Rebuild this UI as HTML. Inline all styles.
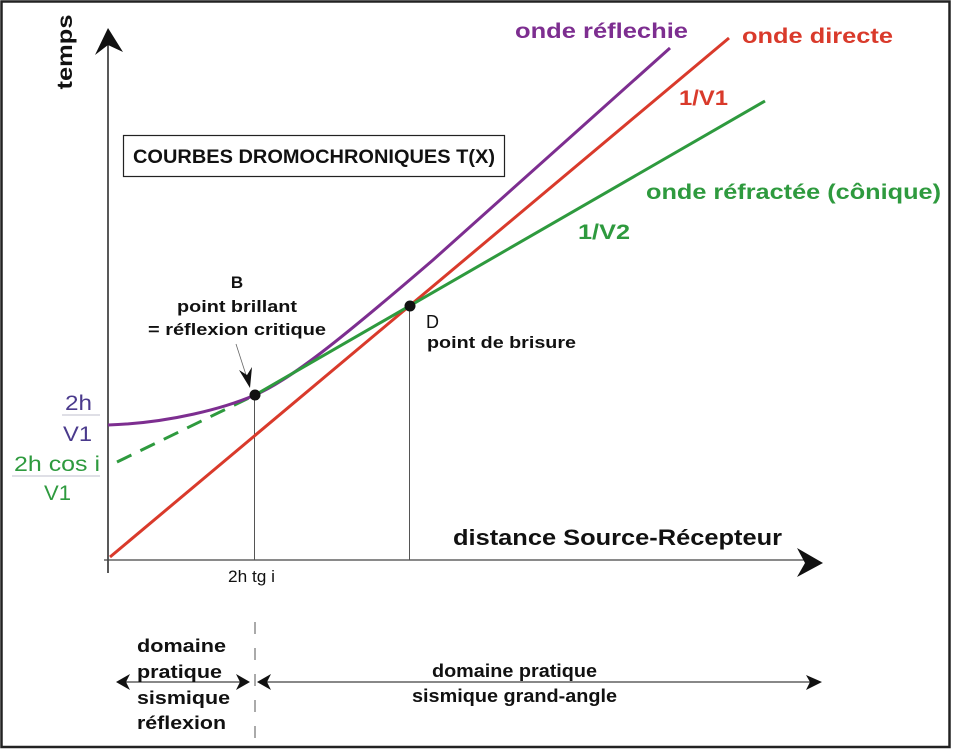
<!DOCTYPE html>
<html><head><meta charset="utf-8"><style>
html,body{margin:0;padding:0;background:#fff}
svg{display:block}
text{font-family:"Liberation Sans",Arial,sans-serif}
</style></head><body>
<svg width="953" height="750" viewBox="0 0 953 750" xmlns="http://www.w3.org/2000/svg">
<rect x="1.5" y="1.5" width="948" height="745.5" fill="#fff" stroke="#222" stroke-width="2.5"/>
<!-- axes -->
<line x1="108" y1="573" x2="108" y2="44" stroke="#222" stroke-width="1.5"/>
<path d="M108,28 L123,52 L108,45 L95,55 Z" fill="#111"/>
<line x1="104" y1="560" x2="808" y2="560" stroke="#444" stroke-width="1.2"/>
<path d="M823,563 L797,548 L805,563 L797,577 Z" fill="#111"/>
<text transform="translate(72,52) rotate(-90)" text-anchor="middle" font-size="21" font-weight="bold" fill="#111" textLength="75" lengthAdjust="spacingAndGlyphs">temps</text>
<!-- title box -->
<rect x="123.5" y="135.5" width="381" height="41" fill="#fff" stroke="#222" stroke-width="1.2"/>
<text x="133" y="163" font-size="19" font-weight="bold" fill="#111" textLength="362" lengthAdjust="spacingAndGlyphs">COURBES DROMOCHRONIQUES T(X)</text>
<!-- verticals -->
<line x1="254.5" y1="395" x2="254.5" y2="560" stroke="#555" stroke-width="1"/>
<line x1="409.5" y1="306" x2="409.5" y2="560" stroke="#555" stroke-width="1"/>
<!-- curves -->
<line x1="110" y1="557" x2="729" y2="38" stroke="#d93a2b" stroke-width="3"/>
<line x1="117" y1="462" x2="255" y2="395" stroke="#2e9a3e" stroke-width="3" stroke-dasharray="16,10"/>
<path d="M108,425 C170,423 225,408 255,395 C290,380 340,340 433,260 L670,48" fill="none" stroke="#7d2e90" stroke-width="3"/>
<line x1="255" y1="395" x2="765" y2="101" stroke="#2e9a3e" stroke-width="3"/>
<circle cx="255" cy="395" r="5.5" fill="#111"/>
<circle cx="410" cy="306" r="5.5" fill="#111"/>
<!-- B pointer -->
<line x1="236" y1="344" x2="247" y2="378" stroke="#666" stroke-width="0.8"/>
<path d="M250,388 L239,370 L247,375 L252,367 Z" fill="#111"/>
<!-- labels -->
<text x="237" y="288" text-anchor="middle" font-size="17" font-weight="bold" fill="#111">B</text>
<text x="177" y="312" font-size="17" font-weight="bold" fill="#111" textLength="120" lengthAdjust="spacingAndGlyphs">point brillant</text>
<text x="148" y="335" font-size="17" font-weight="bold" fill="#111" textLength="178" lengthAdjust="spacingAndGlyphs">= réflexion critique</text>
<text x="426" y="328" font-size="18" fill="#111">D</text>
<text x="427" y="348" font-size="17" font-weight="bold" fill="#111" textLength="149" lengthAdjust="spacingAndGlyphs">point de brisure</text>
<text x="515" y="38" font-size="21" font-weight="bold" fill="#7d2e90" textLength="173" lengthAdjust="spacingAndGlyphs">onde réflechie</text>
<text x="742" y="43" font-size="21" font-weight="bold" fill="#d93a2b" textLength="151" lengthAdjust="spacingAndGlyphs">onde directe</text>
<text x="679" y="105" font-size="21" font-weight="bold" fill="#d93a2b" textLength="49" lengthAdjust="spacingAndGlyphs">1/V1</text>
<text x="646" y="199" font-size="21" font-weight="bold" fill="#2e9a3e" textLength="295" lengthAdjust="spacingAndGlyphs">onde réfractée (cônique)</text>
<text x="578" y="239" font-size="21" font-weight="bold" fill="#2e9a3e" textLength="52" lengthAdjust="spacingAndGlyphs">1/V2</text>
<text x="453" y="545" font-size="22" font-weight="bold" fill="#111" textLength="329" lengthAdjust="spacingAndGlyphs">distance Source-Récepteur</text>
<text x="228" y="582" font-size="17" fill="#111" textLength="47" lengthAdjust="spacingAndGlyphs">2h tg i</text>
<!-- y-intercept labels -->
<text x="65" y="410" font-size="21" fill="#4a3a8c" textLength="27" lengthAdjust="spacingAndGlyphs">2h</text>
<line x1="62" y1="415" x2="100" y2="415" stroke="#aab" stroke-width="0.8"/>
<text x="63" y="441" font-size="21" fill="#4a3a8c" textLength="29" lengthAdjust="spacingAndGlyphs">V1</text>
<text x="14" y="471" font-size="21" fill="#2e9a3e" textLength="86" lengthAdjust="spacingAndGlyphs">2h cos i</text>
<line x1="12" y1="476" x2="100" y2="476" stroke="#aab" stroke-width="0.8"/>
<text x="44" y="500" font-size="21" fill="#2e9a3e" textLength="27" lengthAdjust="spacingAndGlyphs">V1</text>
<!-- bottom -->
<line x1="255" y1="622" x2="255" y2="740" stroke="#555" stroke-width="1" stroke-dasharray="12,14"/>
<line x1="122" y1="682" x2="244" y2="682" stroke="#111" stroke-width="1"/>
<path d="M116,682 L130,674 L126,682 L130,690 Z" fill="#111"/>
<path d="M250,682 L236,674 L240,682 L236,690 Z" fill="#111"/>
<line x1="262" y1="682" x2="812" y2="682" stroke="#111" stroke-width="1"/>
<path d="M257,682 L271,674 L267,682 L271,690 Z" fill="#111"/>
<path d="M822,682 L806,675 L810,682 L806,690 Z" fill="#111"/>
<g font-size="18" font-weight="bold" fill="#111">
<text x="137" y="652" textLength="89" lengthAdjust="spacingAndGlyphs">domaine</text>
<text x="137" y="678" textLength="85" lengthAdjust="spacingAndGlyphs">pratique</text>
<text x="137" y="704" textLength="93" lengthAdjust="spacingAndGlyphs">sismique</text>
<text x="137" y="729" textLength="89" lengthAdjust="spacingAndGlyphs">réflexion</text>
<text x="432" y="677" textLength="165" lengthAdjust="spacingAndGlyphs">domaine pratique</text>
<text x="412" y="702" textLength="205" lengthAdjust="spacingAndGlyphs">sismique grand-angle</text>
</g>
</svg>
</body></html>
